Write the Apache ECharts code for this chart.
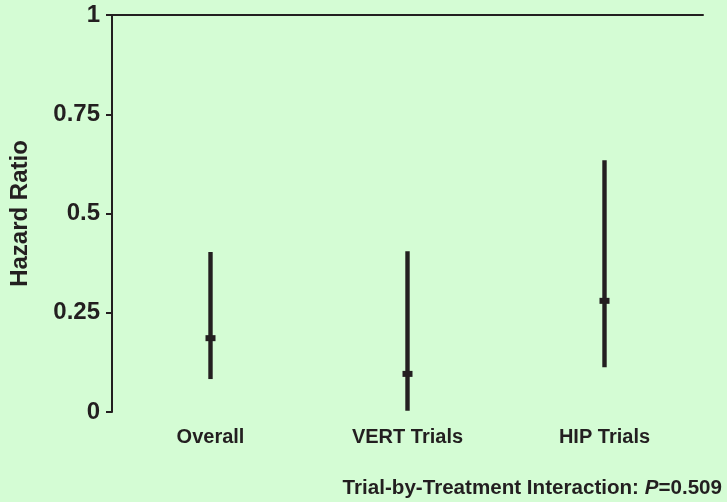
<!DOCTYPE html>
<html>
<head>
<meta charset="utf-8">
<script src="https://cdn.jsdelivr.net/npm/echarts@6/dist/echarts.min.js"></script>
<style>html,body{margin:0;padding:0;background:#d4fcd4;}#c{width:727px;height:502px;}</style>
</head>
<body>
<div id="c"></div>
<script>
var categories = ['Overall', 'VERT Trials', 'HIP Trials'];
var lowValues = [0.083, 0.003, 0.113];
var midValues = [0.186, 0.096, 0.28];
var highValues = [0.403, 0.405, 0.634];
var yTicks = [0, 0.25, 0.5, 0.75, 1];
var yName = 'Hazard Ratio';
var footnotePrefix = 'Trial-by-Treatment Interaction: ';
var footnoteP = 'P';
var footnoteValue = '=0.509';

var ink = '#231f20';
var font = 'Liberation Sans, Arial, Helvetica, sans-serif';
var data = categories.map(function (c, i) { return [i, lowValues[i], midValues[i], highValues[i]]; });

var chart = echarts.init(document.getElementById('c'));
chart.setOption({
  backgroundColor: '#d4fcd4',
  animation: false,
  grid: { left: 112, right: 24, top: 15, bottom: 90 },
  xAxis: [{
    type: 'category', data: categories, boundaryGap: true,
    axisLine: { show: false }, axisTick: { show: false },
    axisLabel: { color: ink, fontSize: 20, fontWeight: 'bold', fontFamily: font, margin: 15 }
  }, {
    type: 'category', data: categories, position: 'top',
    axisLine: { show: true, lineStyle: { color: ink, width: 2 } },
    axisTick: { show: false }, axisLabel: { show: false }
  }],
  yAxis: {
    type: 'value', min: yTicks[0], max: yTicks[yTicks.length - 1], interval: 0.25,
    name: yName, nameLocation: 'middle', nameGap: 80,
    nameTextStyle: { color: ink, fontSize: 24, fontWeight: 'bold', fontFamily: font },
    axisLine: { show: true, lineStyle: { color: ink, width: 2 } },
    axisTick: { show: true, length: 6, lineStyle: { color: ink, width: 2 } },
    splitLine: { show: false },
    axisLabel: {
      color: ink, fontSize: 24, fontWeight: 'bold', fontFamily: font, margin: 12,
      formatter: function (v) { return String(v); }
    }
  },
  series: [{
    type: 'custom',
    data: data,
    renderItem: function (params, api) {
      var x = api.value(0);
      var lo = api.coord([x, api.value(1)]);
      var mid = api.coord([x, api.value(2)]);
      var hi = api.coord([x, api.value(3)]);
      return {
        type: 'group',
        children: [{
          type: 'rect',
          shape: { x: lo[0] - 2.2, y: hi[1], width: 4.4, height: lo[1] - hi[1] },
          style: { fill: ink }
        }, {
          type: 'rect',
          shape: { x: mid[0] - 5, y: mid[1] - 3, width: 10, height: 6 },
          style: { fill: ink }
        }]
      };
    }
  }],
  graphic: [{
    type: 'text', right: 5, top: 478,
    style: {
      text: footnotePrefix + '{i|' + footnoteP + '}' + footnoteValue,
      fill: ink, font: 'bold 20.6px ' + font,
      rich: { i: { fontStyle: 'italic', fontWeight: 'bold', fontSize: 20.6, fontFamily: font, fill: ink } }
    }
  }]
});
</script>
</body>
</html>
